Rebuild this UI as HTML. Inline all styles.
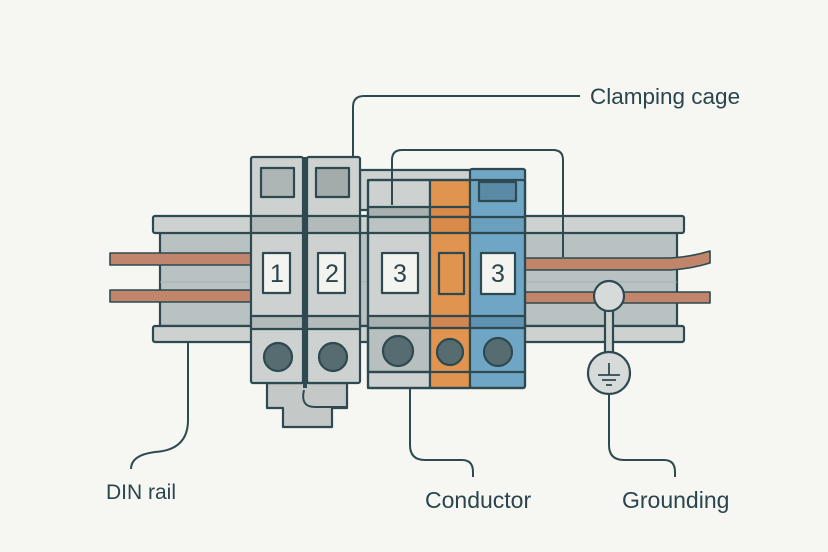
<!DOCTYPE html>
<html><head><meta charset="utf-8"><style>
body{margin:0;background:#f6f6f2;}
svg{display:block}
text{font-family:"Liberation Sans",sans-serif;fill:#2a454c}
</style></head><body>
<svg width="828" height="552" viewBox="0 0 828 552" xmlns="http://www.w3.org/2000/svg">
<rect width="828" height="552" fill="#f6f6f2"/>
<g stroke="#2e4a50" stroke-width="2.2" stroke-linejoin="round">
<!-- rail -->
<rect x="160" y="232" width="517" height="94" fill="#b9c2c2"/>
<rect x="153" y="216" width="531" height="17" rx="2" fill="#cdd2d1"/>
<rect x="153" y="326" width="531" height="16" rx="2" fill="#cdd2d1"/>
<line x1="160" y1="282" x2="677" y2="282" stroke-width="1" stroke="#a9b1b1"/>
<!-- wires -->
<rect x="110" y="253" width="145" height="12" fill="#c0856a" stroke-width="1.6"/>
<rect x="110" y="290" width="145" height="12" fill="#c0856a" stroke-width="1.6"/>
<path d="M524 258 L670 258 Q690 257 710 251 L710 263 Q690 269 670 270 L524 270 Z" fill="#c0856a" stroke-width="1.6"/>
<rect x="524" y="292" width="186" height="11" fill="#c0856a" stroke-width="1.6"/>
<!-- back box -->
<rect x="360" y="170" width="165" height="40" fill="#cdd2d1"/>
<!-- module 1 & 2 stub -->
<path d="M267 383 V408 H283 V427 H332 V408 H347 V383 Z" fill="#c4c9c8"/>
<rect x="251" y="157" width="52" height="226" rx="2" fill="#cdd2d1"/>
<rect x="307" y="157" width="53" height="226" rx="2" fill="#cdd2d1"/>
<rect x="251" y="216" width="52" height="17" fill="#b3baba"/>
<rect x="307" y="216" width="53" height="17" fill="#b3baba"/>
<rect x="251" y="316" width="52" height="13" fill="#b3baba"/>
<rect x="307" y="316" width="53" height="13" fill="#b3baba"/>
<rect x="261" y="168" width="33" height="29" fill="#aeb5b5"/>
<rect x="316" y="168" width="33" height="29" fill="#a3abab"/>
<rect x="263" y="253" width="27" height="40" fill="#f3f3ef"/>
<rect x="318" y="253" width="27" height="40" fill="#f3f3ef"/>
<circle cx="278" cy="357" r="14" fill="#566c70"/>
<circle cx="333" cy="357" r="14" fill="#566c70"/>
<path d="M305 157 V388" stroke-width="4"/>
<path d="M304 390 Q300 407 315 407 H347" fill="none" stroke-width="2"/>
<!-- module 3 -->
<rect x="368" y="180" width="62" height="208" fill="#cdd2d1"/>
<rect x="430" y="180" width="40" height="208" fill="#e0944f"/>
<rect x="470" y="169" width="55" height="219" rx="2" fill="#6fa6c5"/>
<rect x="368" y="207" width="62" height="10" fill="#a9b0b0"/>
<rect x="430" y="207" width="40" height="10" fill="#d98a48"/>
<rect x="368" y="217" width="62" height="16" fill="#bcc3c3"/>
<rect x="430" y="217" width="40" height="16" fill="#d98a48"/>
<rect x="470" y="217" width="55" height="16" fill="#6a9fbe"/>
<rect x="368" y="316" width="62" height="12" fill="#a9b0b0"/>
<rect x="430" y="316" width="40" height="12" fill="#cf8650"/>
<rect x="470" y="316" width="55" height="12" fill="#5f93b2"/>
<rect x="368" y="328" width="62" height="44" fill="#b8bfbf"/>
<line x1="368" y1="372" x2="525" y2="372"/>
<rect x="368" y="180" width="157" height="208" rx="2" fill="none"/>
<rect x="479" y="182" width="37" height="19" fill="#5b8aa6"/>
<rect x="382" y="253" width="36" height="40" fill="#f3f3ef"/>
<rect x="439" y="253" width="25" height="41" fill="#e0944f"/>
<rect x="481" y="253" width="34" height="41" fill="#f3f3ef"/>
<circle cx="398" cy="351" r="15" fill="#566c70"/>
<circle cx="450" cy="352" r="13" fill="#566c70"/>
<circle cx="498" cy="352" r="14" fill="#566c70"/>
<!-- grounding -->
<rect x="605" y="308" width="8" height="48" fill="#cdd2d1"/>
<circle cx="609" cy="296" r="15" fill="#d6dad9"/>
<circle cx="609" cy="373" r="21" fill="#d6dad9"/>
<path d="M609 363 V375 M598 375 H620 M602 380 H616 M606 385 H612" fill="none" stroke-width="1.8"/>
<!-- callouts -->
<g fill="none" stroke-width="2">
<path d="M580 96 H364 Q353 96 353 107 V157"/>
<path d="M392 205 V160 Q392 150 402 150 H553 Q563 150 563 160 V257"/>
<path d="M188 342 V420 Q188 450 155 452 Q131 455 131 469"/>
<path d="M410 388 V445 Q410 460 425 460 H462 Q473 460 473 472 V477"/>
<path d="M609 394 V445 Q609 460 624 460 H664 Q675 460 675 472 V477"/>
</g>
</g>
<g font-size="25" text-anchor="middle" font-family="DejaVu Sans, sans-serif" style="font-family:'DejaVu Sans',sans-serif">
<text x="277" y="282">1</text>
<text x="332" y="282">2</text>
<text x="400" y="282">3</text>
<text x="498" y="282">3</text>
</g>
<text x="590" y="104" font-size="22.5">Clamping cage</text>
<text x="106" y="499" font-size="21">DIN rail</text>
<text x="425" y="508" font-size="23">Conductor</text>
<text x="622" y="508" font-size="23">Grounding</text>
</svg>
</body></html>
